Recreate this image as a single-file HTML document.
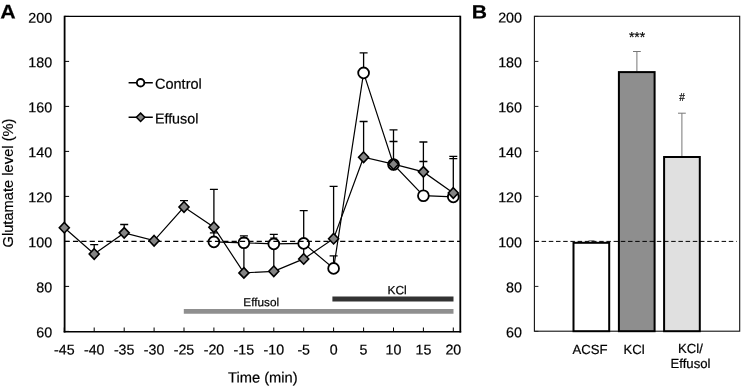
<!DOCTYPE html><html><head><meta charset="utf-8"><title>Figure</title><style>html,body{margin:0;padding:0;background:#fff}svg{display:block}text{font-family:"Liberation Sans",Arial,sans-serif;fill:#000;stroke:#000;stroke-width:0.2px}</style></head><body>
<svg width="745" height="387" viewBox="0 0 745 387">
<rect width="745" height="387" fill="#fff"/>
<g fill="none" stroke="#000">
<path d="M64.6,15.7V332.5" stroke-width="1.8"/>
<path d="M63.699999999999996,331.7H461.2" stroke-width="1.6"/>
<path d="M64.6,16.4H460.3" stroke-width="1.4"/>
<path d="M460.3,15.7V332.5" stroke-width="1.8"/>
<path d="M64.6,331.4h4.5M64.6,286.4h4.5M64.6,241.4h4.5M64.6,196.4h4.5M64.6,151.4h4.5M64.6,106.4h4.5M64.6,61.4h4.5M64.6,16.4h4.5M64.3,331.7v-4.2M94.2,331.7v-4.2M124.2,331.7v-4.2M154.1,331.7v-4.2M184.0,331.7v-4.2M213.9,331.7v-4.2M243.9,331.7v-4.2M273.8,331.7v-4.2M303.7,331.7v-4.2M333.6,331.7v-4.2M363.6,331.7v-4.2M393.5,331.7v-4.2M423.4,331.7v-4.2M453.3,331.7v-4.2" stroke-width="1"/>
</g>
<text transform="translate(52.20,337.35) rotate(0.03)" font-size="14.3" text-anchor="end">60</text>
<text transform="translate(52.20,292.35) rotate(0.03)" font-size="14.3" text-anchor="end">80</text>
<text transform="translate(52.20,247.35) rotate(0.03)" font-size="14.3" text-anchor="end">100</text>
<text transform="translate(52.20,202.35) rotate(0.03)" font-size="14.3" text-anchor="end">120</text>
<text transform="translate(52.20,157.35) rotate(0.03)" font-size="14.3" text-anchor="end">140</text>
<text transform="translate(52.20,112.35) rotate(0.03)" font-size="14.3" text-anchor="end">160</text>
<text transform="translate(52.20,67.35) rotate(0.03)" font-size="14.3" text-anchor="end">180</text>
<text transform="translate(52.20,22.80) rotate(0.03)" font-size="14.3" text-anchor="end">200</text>
<text transform="translate(64.30,354.50) rotate(0.03)" font-size="14.2" text-anchor="middle">-45</text>
<text transform="translate(94.22,354.50) rotate(0.03)" font-size="14.2" text-anchor="middle">-40</text>
<text transform="translate(124.15,354.50) rotate(0.03)" font-size="14.2" text-anchor="middle">-35</text>
<text transform="translate(154.07,354.50) rotate(0.03)" font-size="14.2" text-anchor="middle">-30</text>
<text transform="translate(184.00,354.50) rotate(0.03)" font-size="14.2" text-anchor="middle">-25</text>
<text transform="translate(213.93,354.50) rotate(0.03)" font-size="14.2" text-anchor="middle">-20</text>
<text transform="translate(243.85,354.50) rotate(0.03)" font-size="14.2" text-anchor="middle">-15</text>
<text transform="translate(273.78,354.50) rotate(0.03)" font-size="14.2" text-anchor="middle">-10</text>
<text transform="translate(303.70,354.50) rotate(0.03)" font-size="14.2" text-anchor="middle">-5</text>
<text transform="translate(333.62,354.50) rotate(0.03)" font-size="14.2" text-anchor="middle">0</text>
<text transform="translate(363.55,354.50) rotate(0.03)" font-size="14.2" text-anchor="middle">5</text>
<text transform="translate(393.48,354.50) rotate(0.03)" font-size="14.2" text-anchor="middle">10</text>
<text transform="translate(423.40,354.50) rotate(0.03)" font-size="14.2" text-anchor="middle">15</text>
<text transform="translate(453.33,354.50) rotate(0.03)" font-size="14.2" text-anchor="middle">20</text>
<text transform="translate(0.20,18.40) rotate(0.03) scale(1.08,1)" font-size="19.8" text-anchor="start" font-weight="bold">A</text>
<text transform="translate(13.4,183) rotate(-90)" font-size="14.7" text-anchor="middle">Glutamate level (%)</text>
<text transform="translate(262.80,382.60) rotate(0.03)" font-size="14.7" text-anchor="middle">Time (min)</text>
<path d="M183.8,311.3H453.5" stroke="#8f8f8f" stroke-width="4.8"/>
<path d="M332.4,299H453.5" stroke="#333" stroke-width="5.1"/>
<text transform="translate(261.20,306.30) rotate(0.03)" font-size="11.8" text-anchor="middle">Effusol</text>
<text transform="translate(397.10,294.20) rotate(0.03)" font-size="12" text-anchor="middle">KCl</text>
<path d="M94.2,254.0V244.6m-4,0h8M124.2,232.9V224.5m-4,0h8M184.0,207.0V200.7m-4,0h8M213.9,227.2V189.4m-4,0h8M243.9,272.9V242.8m-4,0h8M273.8,271.3V244.3m-4,0h8M303.7,258.9V210.6m-4,0h8M333.6,238.7V186.3m-4,0h8M363.6,157.2V121.5m-4,0h8M393.5,164.2V141.5m-4,0h8M423.4,171.9V142.0m-4,0h8M453.3,193.0V156.3m-4,0h8M213.9,241.9V232.9m-4,0h8M243.9,242.8V235.8m-4,0h8M273.8,243.9V234.4m-4,0h8M333.6,268.4V255.8m-4,0h8M363.6,72.9V52.8m-4,0h8M393.5,164.5V129.8m-4,0h8M423.4,195.7V161.5m-4,0h8M453.3,196.9V158.6m-4,0h8" stroke="#000" stroke-width="1.3" fill="none"/>
<polyline fill="none" stroke="#000" stroke-width="1.2" points="213.9,241.9 243.9,242.8 273.8,243.9 303.7,243.4 333.6,268.4 363.6,72.9 393.5,164.5 423.4,195.7 453.3,196.9"/>
<circle cx="213.9" cy="241.9" r="5.4" fill="#fff" stroke="#000" stroke-width="1.8"/>
<circle cx="243.9" cy="242.8" r="5.4" fill="#fff" stroke="#000" stroke-width="1.8"/>
<circle cx="273.8" cy="243.9" r="5.4" fill="#fff" stroke="#000" stroke-width="1.8"/>
<circle cx="303.7" cy="243.4" r="5.4" fill="#fff" stroke="#000" stroke-width="1.8"/>
<circle cx="333.6" cy="268.4" r="5.4" fill="#fff" stroke="#000" stroke-width="1.8"/>
<circle cx="363.6" cy="72.9" r="5.4" fill="#fff" stroke="#000" stroke-width="1.8"/>
<circle cx="393.5" cy="164.5" r="5.4" fill="#fff" stroke="#000" stroke-width="1.8"/>
<circle cx="423.4" cy="195.7" r="5.4" fill="#fff" stroke="#000" stroke-width="1.8"/>
<circle cx="453.3" cy="196.9" r="5.4" fill="#fff" stroke="#000" stroke-width="1.8"/>
<path d="M270.3,238.1h7M240.4,237.9h7" stroke="#000" stroke-width="1.2" fill="none"/>
<path d="M64.6,241.4H460.3" stroke="#000" stroke-width="1.3" stroke-dasharray="5.2 3.15" fill="none"/>
<polyline fill="none" stroke="#000" stroke-width="1.2" points="64.3,227.7 94.2,254.0 124.2,232.9 154.1,240.7 184.0,207.0 213.9,227.2 243.9,272.9 273.8,271.3 303.7,258.9 333.6,238.7 363.6,157.2 393.5,164.2 423.4,171.9 453.3,193.0"/>
<path d="M64.3,222.43l5.0,5.25l-5.0,5.25l-5.0,-5.25z" fill="#848484" stroke="#000" stroke-width="1.6"/>
<path d="M94.2,248.75l5.0,5.25l-5.0,5.25l-5.0,-5.25z" fill="#848484" stroke="#000" stroke-width="1.6"/>
<path d="M124.2,227.60l5.0,5.25l-5.0,5.25l-5.0,-5.25z" fill="#848484" stroke="#000" stroke-width="1.6"/>
<path d="M154.1,235.48l5.0,5.25l-5.0,5.25l-5.0,-5.25z" fill="#848484" stroke="#000" stroke-width="1.6"/>
<path d="M184.0,201.73l5.0,5.25l-5.0,5.25l-5.0,-5.25z" fill="#848484" stroke="#000" stroke-width="1.6"/>
<path d="M213.9,221.98l5.0,5.25l-5.0,5.25l-5.0,-5.25z" fill="#848484" stroke="#000" stroke-width="1.6"/>
<path d="M243.9,267.65l5.0,5.25l-5.0,5.25l-5.0,-5.25z" fill="#848484" stroke="#000" stroke-width="1.6"/>
<path d="M273.8,266.07l5.0,5.25l-5.0,5.25l-5.0,-5.25z" fill="#848484" stroke="#000" stroke-width="1.6"/>
<path d="M303.7,253.70l5.0,5.25l-5.0,5.25l-5.0,-5.25z" fill="#848484" stroke="#000" stroke-width="1.6"/>
<path d="M333.6,233.45l5.0,5.25l-5.0,5.25l-5.0,-5.25z" fill="#848484" stroke="#000" stroke-width="1.6"/>
<path d="M363.6,152.00l5.0,5.25l-5.0,5.25l-5.0,-5.25z" fill="#848484" stroke="#000" stroke-width="1.6"/>
<path d="M393.5,158.97l5.0,5.25l-5.0,5.25l-5.0,-5.25z" fill="#848484" stroke="#000" stroke-width="1.6"/>
<path d="M423.4,166.62l5.0,5.25l-5.0,5.25l-5.0,-5.25z" fill="#848484" stroke="#000" stroke-width="1.6"/>
<path d="M453.3,187.78l5.0,5.25l-5.0,5.25l-5.0,-5.25z" fill="#848484" stroke="#000" stroke-width="1.6"/>
<path d="M128.6,82.8H152.8M128.6,117.3H152.8" stroke="#000" stroke-width="1.45"/>
<circle cx="140.6" cy="82.8" r="3.75" fill="#fff" stroke="#000" stroke-width="1.9"/>
<path d="M140.6,113.1l4.2,4.2l-4.2,4.2l-4.2,-4.2z" fill="#848484" stroke="#000" stroke-width="1.5"/>
<text transform="translate(155.00,88.80) rotate(0.03)" font-size="14.5" text-anchor="start">Control</text>
<text transform="translate(154.90,123.50) rotate(0.03)" font-size="14.3" text-anchor="start">Effusol</text>
<rect x="534.4" y="16.3" width="205.30000000000007" height="314.9" fill="none" stroke="#111" stroke-width="1.1"/>
<path d="M534.4,331.4h4M534.4,286.4h4M534.4,241.4h4M534.4,196.4h4M534.4,151.4h4M534.4,106.4h4M534.4,61.4h4M534.4,16.4h4" stroke="#222" stroke-width="1" fill="none"/>
<text transform="translate(522.00,337.20) rotate(0.03)" font-size="14.3" text-anchor="end">60</text>
<text transform="translate(522.00,292.20) rotate(0.03)" font-size="14.3" text-anchor="end">80</text>
<text transform="translate(522.00,247.20) rotate(0.03)" font-size="14.3" text-anchor="end">100</text>
<text transform="translate(522.00,202.20) rotate(0.03)" font-size="14.3" text-anchor="end">120</text>
<text transform="translate(522.00,157.20) rotate(0.03)" font-size="14.3" text-anchor="end">140</text>
<text transform="translate(522.00,112.20) rotate(0.03)" font-size="14.3" text-anchor="end">160</text>
<text transform="translate(522.00,67.20) rotate(0.03)" font-size="14.3" text-anchor="end">180</text>
<text transform="translate(522.00,22.60) rotate(0.03)" font-size="14.3" text-anchor="end">200</text>
<text transform="translate(471.80,18.40) rotate(0.03) scale(1.1,1)" font-size="19.2" text-anchor="start" font-weight="bold">B</text>
<path d="M636.9,71.5V51.5m-3.9,0h7.8M681.9,156.8V113.2m-3.9,0h7.8M591.5,242.5V240.7m-3,0h6" stroke="#777" stroke-width="1" fill="none"/>
<rect x="573.50" y="242.8" width="35.7" height="88.4" fill="#fff" stroke="#000" stroke-width="2"/>
<rect x="618.90" y="72.1" width="35.7" height="259.1" fill="#8e8e8e" stroke="#000" stroke-width="2"/>
<rect x="664.10" y="157.0" width="35.7" height="174.2" fill="#e0e0e0" stroke="#000" stroke-width="2"/>
<path d="M534.4,241.4H736.7" stroke="#000" stroke-width="1" stroke-dasharray="4.5 2.7" fill="none"/>
<text x="637.1" y="42" font-size="14" text-anchor="middle" stroke="#000" stroke-width="0.25">***</text>
<text x="682" y="101" font-size="10" text-anchor="middle" stroke="#000" stroke-width="0.25">#</text>
<text transform="translate(590.10,354.00) rotate(0.03)" font-size="13.15" text-anchor="middle">ACSF</text>
<text transform="translate(634.20,354.00) rotate(0.03)" font-size="13.15" text-anchor="middle">KCl</text>
<text transform="translate(690.50,352.90) rotate(0.03)" font-size="13.15" text-anchor="middle">KCl/</text>
<text transform="translate(690.50,368.10) rotate(0.03)" font-size="13.15" text-anchor="middle">Effusol</text>
</svg></body></html>
